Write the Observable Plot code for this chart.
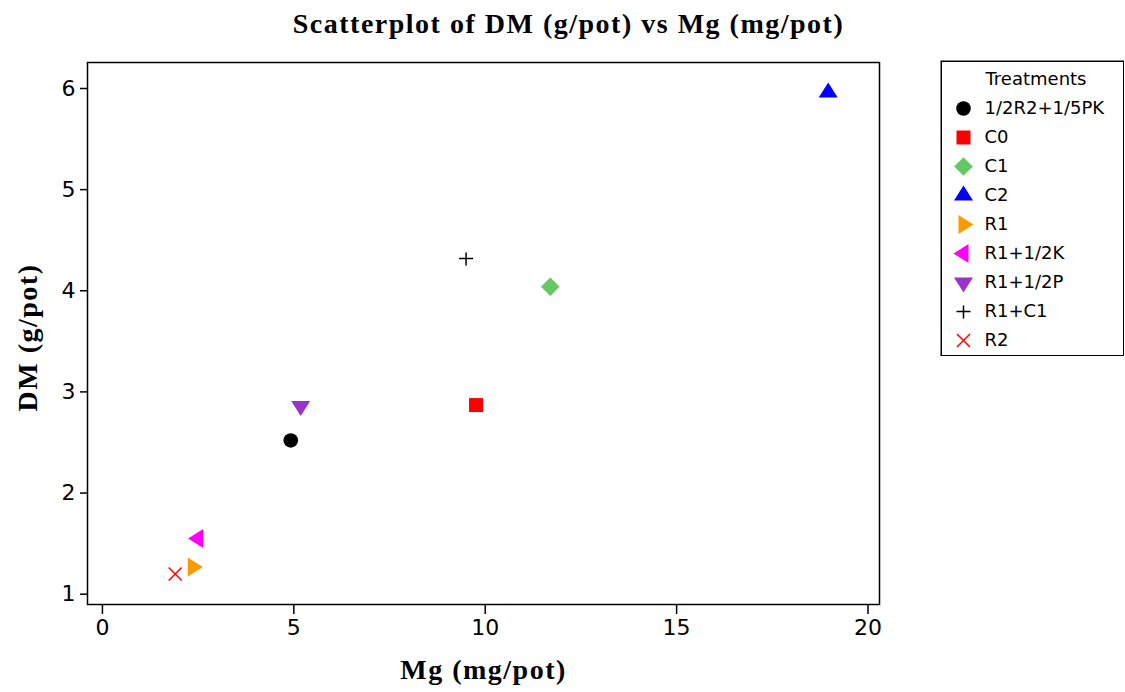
<!DOCTYPE html>
<html><head><meta charset="utf-8">
<script src="https://cdn.jsdelivr.net/npm/d3@7"></script>
<script src="https://cdn.jsdelivr.net/npm/@observablehq/plot@0.6"></script>
<style>
body{margin:0;background:#fff;}
#wrap{position:relative;width:1125px;height:692px;overflow:hidden;background:#fff;}
#title{position:absolute;left:6px;top:10px;width:1125px;text-align:center;font-family:"Liberation Serif";font-weight:bold;font-size:28px;letter-spacing:1.5px;line-height:1;color:#000;}
#chart{position:absolute;left:0;top:0;width:1125px;height:692px;}
#legend{position:absolute;left:940px;top:60px;width:185px;height:296px;}
#chart g[aria-label="text"] text{letter-spacing:1.5px;}
#chart g[aria-label$="tick label"]{font-size:22px;}
#chart g[aria-label$="tick label"] text{font-size:22px;}
</style></head><body>
<div id="wrap"><div id="chart"></div><div id="title">Scatterplot of DM (g/pot) vs Mg (mg/pot)</div><div id="legend"></div></div>
<script>
// ---- data ----
const treatments = ["1/2R2+1/5PK","C0","C1","C2","R1","R1+1/2K","R1+1/2P","R1+C1","R2"];
const mg = [4.92, 9.76, 11.70, 18.96, 2.36, 2.50, 5.18, 9.50, 1.90];
const dm = [2.52, 2.87, 4.04, 5.96, 1.27, 1.55, 2.86, 4.32, 1.20];
const xTicks = [0, 5, 10, 15, 20];
const yTicks = [1, 2, 3, 4, 5, 6];
const titleText = "Scatterplot of DM (g/pot) vs Mg (mg/pot)";
const xLabel = "Mg (mg/pot)";
const yLabel = "DM (g/pot)";
const legendTitle = "Treatments";

// ---- styles ----
function poly(pts){return {draw(ctx){pts.forEach(([x,y],i)=> i?ctx.lineTo(x,y):ctx.moveTo(x,y)); ctx.closePath();}};}
const shapes = {
  circle: {draw(ctx){ctx.moveTo(7.3,0); ctx.arc(0,0,7.3,0,2*Math.PI);}},
  square: poly([[-7,-7],[7,-7],[7,7],[-7,7]]),
  diamond: poly([[0,-9.3],[9.3,0],[0,9.3],[-9.3,0]]),
  up: poly([[0,-10],[-9.5,5],[9.5,5]]),
  right: poly([[10,0],[-5,-9.5],[-5,9.5]]),
  left: poly([[-10,0],[5,-9.5],[5,9.5]]),
  down: poly([[0,10],[-9.5,-5],[9.5,-5]]),
  plus: {draw(ctx){ctx.moveTo(-7,0);ctx.lineTo(7,0);ctx.moveTo(0,-6);ctx.lineTo(0,7);}},
  times: {draw(ctx){ctx.moveTo(-6.5,-6.5);ctx.lineTo(6.5,6.5);ctx.moveTo(-6.5,6.5);ctx.lineTo(6.5,-6.5);}}
};
const styleOf = {
  "1/2R2+1/5PK": {shape:"circle", fill:"#000000"},
  "C0": {shape:"square", fill:"#ff0000"},
  "C1": {shape:"diamond", fill:"#64c864"},
  "C2": {shape:"up", fill:"#0000ff"},
  "R1": {shape:"right", fill:"#ff9900"},
  "R1+1/2K": {shape:"left", fill:"#ff00ff"},
  "R1+1/2P": {shape:"down", fill:"#9933cc"},
  "R1+C1": {shape:"plus", stroke:"#000000"},
  "R2": {shape:"times", stroke:"#ff0000"}
};
function symOpts(t){
  const s = styleOf[t];
  return s.stroke
    ? {symbol: shapes[s.shape], fill:"none", stroke:s.stroke, strokeWidth:1.5}
    : {symbol: shapes[s.shape], fill:s.fill, stroke:"none"};
}

const rows = treatments.map((t,i)=>({t, mg: mg[i], dm: dm[i]}));

const dots = treatments.map(t => Plot.dot(rows.filter(r=>r.t===t), {x:"mg", y:"dm", r:7, ...symOpts(t)}));

const chart = Plot.plot({
  width:1125, height:692,
  marginLeft:87, marginRight:246, marginTop:62, marginBottom:88,
  style:{fontFamily:'"DejaVu Sans"', fontSize:"22px", color:"#000", background:"transparent"},
  x:{domain:[-0.39, 20.3]},
  y:{domain:[0.898, 6.257]},
  marks:[
    Plot.axisX({ticks:xTicks, tickFormat:d3.format("d"), tickSize:10, tickPadding:5, label:null, stroke:"#000", strokeWidth:1.5, fontSize:22}),
    Plot.axisY({ticks:yTicks, tickFormat:d3.format("d"), tickSize:7, tickPadding:5, label:null, stroke:"#000", strokeWidth:1.5, fontSize:22}),
    Plot.frame({stroke:"#000", strokeWidth:1.5}),
    ...dots,
    Plot.text([xLabel], {text:d=>d, frameAnchor:"bottom", dy:66, textAnchor:"middle", lineAnchor:"middle", fontFamily:"Liberation Serif", fontWeight:"bold", fontSize:28, fill:"#000"}),
    Plot.text([yLabel], {text:d=>d, frameAnchor:"left", dx:-59, dy:4, rotate:-90, textAnchor:"middle", lineAnchor:"middle", fontFamily:"Liberation Serif", fontWeight:"bold", fontSize:28, fill:"#000"})
  ]
});
document.getElementById("chart").append(chart);

const legend = Plot.plot({
  width:184, height:296, margin:0,
  style:{fontFamily:'"DejaVu Sans"', fontSize:"18px", color:"#000", background:"transparent"},
  x:{domain:[0,1], axis:null},
  y:{type:"point", domain:treatments, range:[48,280], padding:0, axis:null},
  marks:[
    Plot.frame({stroke:"#000", strokeWidth:1.5, inset:0.75}),
    Plot.text([legendTitle], {text:d=>d, frameAnchor:"top-left", dx:45, dy:19, lineAnchor:"middle", textAnchor:"start", fontSize:18, fill:"#000"}),
    ...treatments.map(t => Plot.dot([t], {y:d=>d, frameAnchor:"left", dx:23, ...symOpts(t)})),
    Plot.text(treatments, {y:d=>d, text:d=>d, frameAnchor:"left", dx:44, textAnchor:"start", lineAnchor:"middle", fontSize:18, fill:"#000"})
  ]
});
document.getElementById("legend").append(legend);
</script>
</body></html>
